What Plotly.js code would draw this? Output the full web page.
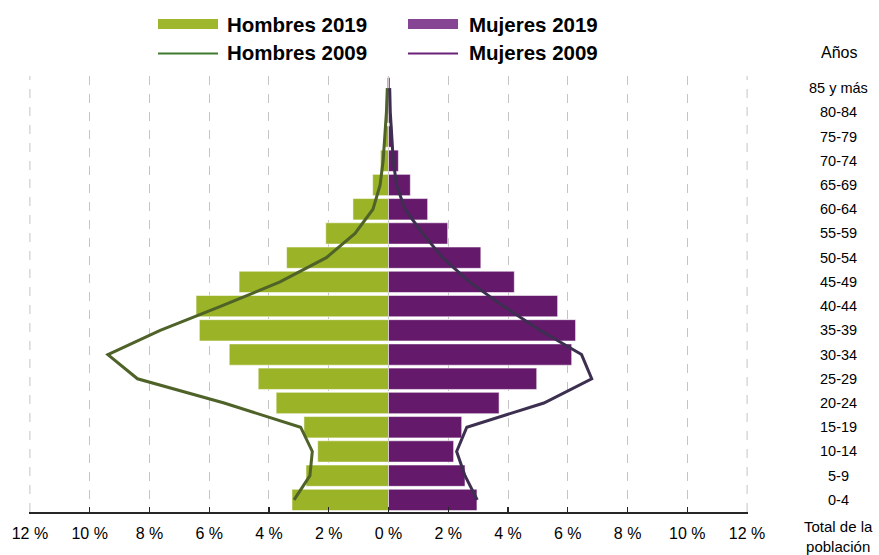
<!DOCTYPE html>
<html>
<head>
<meta charset="utf-8">
<script src="https://cdn.plot.ly/plotly-3.0.1.min.js"></script>
<style>
  html, body { margin: 0; padding: 0; background: #fff; }
  #chart { width: 879px; height: 555px; }
</style>
</head>
<body>
<div id="chart"></div>
<script>
// ---- Data, bottom to top ----
const ageGroups = ['0-4','5-9','10-14','15-19','20-24','25-29','30-34','35-39','40-44',
                   '45-49','50-54','55-59','60-64','65-69','70-74','75-79','80-84','85 y más'];
const hombres2019 = [3.23, 2.76, 2.37, 2.83, 3.76, 4.36, 5.33, 6.33, 6.44, 5.00, 3.41, 2.10, 1.19, 0.53, 0.27, 0.15, 0.09, 0.05];
const mujeres2019 = [2.96, 2.56, 2.18, 2.45, 3.70, 4.96, 6.13, 6.26, 5.66, 4.21, 3.09, 1.98, 1.31, 0.73, 0.33, 0.13, 0.07, 0.05];
const hombres2009 = [3.16, 2.63, 2.55, 2.94, 5.50, 8.40, 9.39, 7.64, 5.60, 3.63, 2.08, 1.12, 0.52, 0.28, 0.18, 0.12, 0.07, 0.04];
const mujeres2009 = [2.97, 2.56, 2.28, 2.62, 5.20, 6.80, 6.46, 5.07, 3.84, 2.71, 1.81, 1.14, 0.55, 0.27, 0.16, 0.10, 0.06, 0.04];
const tickValues = [-12, -10, -8, -6, -4, -2, 0, 2, 4, 6, 8, 10, 12];
const tickLabels = ['12 %','10 %','8 %','6 %','4 %','2 %','0 %','2 %','4 %','6 %','8 %','10 %','12 %'];
const legendNames = ['Hombres 2019', 'Mujeres 2019', 'Hombres 2009', 'Mujeres 2009'];
const axisTitleTop = 'Años';
const axisTitleBottom = 'Total de la<br>población';

const FONT = '"Liberation Sans", Arial, "DejaVu Sans", sans-serif';
const GREEN = '#9bb327';
const PURPLE = '#64196b';
const GREEN_LINE = '#4f6228';
const PURPLE_LINE = '#3d2f4f';
const GRID = '#c4c4c4';

const neg = a => a.map(v => -v);

const traces = [
  {
    type: 'bar', orientation: 'h', name: legendNames[0],
    y: ageGroups, x: neg(hombres2019),
    marker: { color: GREEN, line: { color: 'rgba(255,255,255,0.55)', width: 1 } },
    hoverinfo: 'skip', showlegend: false
  },
  {
    type: 'bar', orientation: 'h', name: legendNames[1],
    y: ageGroups, x: mujeres2019,
    marker: { color: PURPLE, line: { color: 'rgba(255,255,255,0.55)', width: 1 } },
    hoverinfo: 'skip', showlegend: false
  },
  {
    type: 'scatter', mode: 'lines', name: legendNames[2],
    y: ageGroups, x: neg(hombres2009),
    line: { color: GREEN_LINE, width: 3 },
    hoverinfo: 'skip', showlegend: false
  },
  {
    type: 'scatter', mode: 'lines', name: legendNames[3],
    y: ageGroups, x: mujeres2009,
    line: { color: PURPLE_LINE, width: 3 },
    hoverinfo: 'skip', showlegend: false
  }
];

// plot area in pixels: x 29..748, y 76..512
const L = 29, R = 748, T = 76, B = 512;
const px = x => (x - L) / (R - L);
const py = y => (B - y) / (B - T);

const shapes = [
  // edge gridlines (Plotly omits grid lines at the plot edges)
  { type: 'line', xref: 'x', yref: 'paper', x0: tickValues[0], x1: tickValues[0], y0: 0, y1: 1,
    line: { color: GRID, width: 1, dash: 'dash' }, layer: 'below' },
  { type: 'line', xref: 'x', yref: 'paper', x0: tickValues[tickValues.length - 1], x1: tickValues[tickValues.length - 1], y0: 0, y1: 1,
    line: { color: GRID, width: 1, dash: 'dash' }, layer: 'below' },
  // legend swatches
  { type: 'rect', xref: 'paper', yref: 'paper', x0: px(158), x1: px(218), y0: py(29), y1: py(19),
    fillcolor: '#9fb72d', line: { width: 0 } },
  { type: 'rect', xref: 'paper', yref: 'paper', x0: px(408), x1: px(458), y0: py(29), y1: py(19),
    fillcolor: '#864592', line: { width: 0 } },
  { type: 'line', xref: 'paper', yref: 'paper', x0: px(158), x1: px(218), y0: py(53.5), y1: py(53.5),
    line: { color: '#3f7a2f', width: 2.2 } },
  { type: 'line', xref: 'paper', yref: 'paper', x0: px(408), x1: px(458), y0: py(53.5), y1: py(53.5),
    line: { color: '#6a2279', width: 2.2 } }
];

const annotations = [
  { text: legendNames[0], x: px(225), y: py(25), xanchor: 'left', yanchor: 'middle' },
  { text: legendNames[1], x: px(467), y: py(25), xanchor: 'left', yanchor: 'middle' },
  { text: legendNames[2], x: px(225), y: py(52.5), xanchor: 'left', yanchor: 'middle' },
  { text: legendNames[3], x: px(467), y: py(52.5), xanchor: 'left', yanchor: 'middle' }
].map(a => Object.assign(a, {
  xref: 'paper', yref: 'paper', showarrow: false,
  font: { family: FONT, size: 20.5, color: '#000', weight: 'bold' }
}));

// category labels on the right, centred
ageGroups.forEach(g => {
  annotations.push({
    text: g, xref: 'paper', yref: 'y', x: px(838), y: g,
    xanchor: 'center', yanchor: 'middle', showarrow: false,
    font: { family: FONT, size: 14.5, color: '#000' }
  });
});
annotations.push({
  text: axisTitleTop, xref: 'paper', yref: 'paper', x: px(839), y: py(52),
  xanchor: 'center', yanchor: 'middle', showarrow: false,
  font: { family: FONT, size: 16, color: '#000' }
});
annotations.push({
  text: axisTitleBottom, xref: 'paper', yref: 'paper', x: px(838), y: py(536),
  xanchor: 'center', yanchor: 'middle', showarrow: false,
  font: { family: FONT, size: 15, color: '#000' }
});

const layout = {
  width: 879, height: 555,
  margin: { l: L, r: 879 - R, t: T, b: 555 - B, pad: 0 },
  paper_bgcolor: '#fff', plot_bgcolor: '#fff',
  barmode: 'overlay', bargap: 0.12,
  showlegend: false,
  font: { family: FONT, color: '#000' },
  xaxis: {
    range: [-12.03, 12.03], tickvals: tickValues, ticktext: tickLabels,
    showgrid: true, gridcolor: GRID, griddash: 'dash', gridwidth: 1,
    zeroline: false,
    showline: true, linecolor: '#262626', linewidth: 1.6,
    ticks: 'inside', ticklen: 5, tickcolor: '#262626', tickwidth: 1.3,
    ticklabelstandoff: 6,
    tickfont: { family: FONT, size: 16, color: '#000' },
    fixedrange: true
  },
  yaxis: {
    type: 'category', categoryorder: 'array', categoryarray: ageGroups,
    range: [-0.5, 17.5],
    showticklabels: false, showgrid: false, zeroline: false, showline: false, ticks: '',
    fixedrange: true
  },
  shapes: shapes,
  annotations: annotations
};

Plotly.newPlot('chart', traces, layout, { displayModeBar: false, staticPlot: true });
</script>
</body>
</html>
